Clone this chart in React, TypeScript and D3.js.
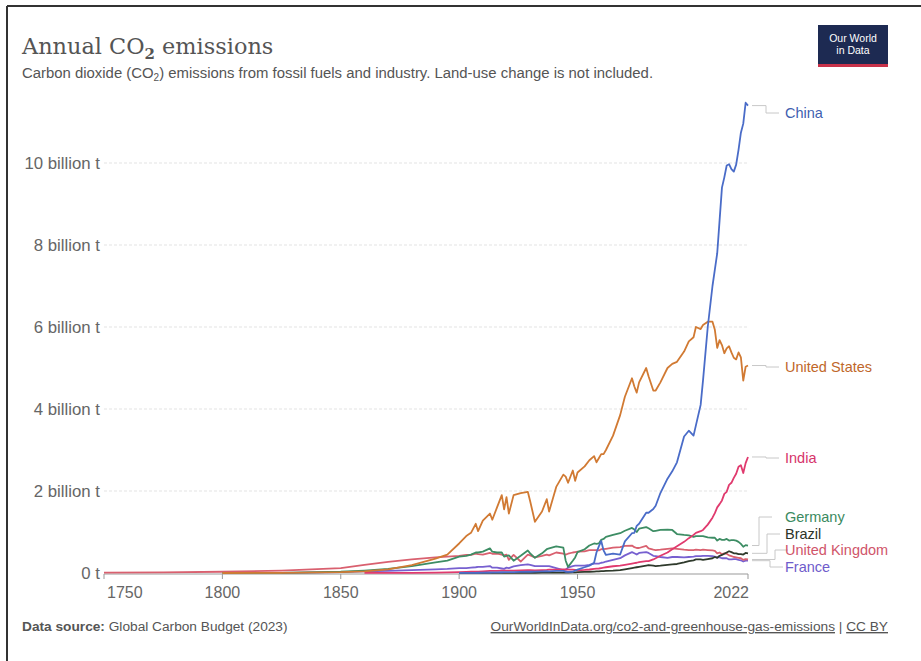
import React from 'react';
import * as d3 from 'd3';

// years shared by every series (irregular: denser where the lines wiggle)
const years = [
  1750, 1775, 1800, 1825, 1850, 1860, 1870, 1880, 1890, 1895,
  1900, 1903, 1905, 1907, 1908, 1910, 1913, 1914, 1916, 1918,
  1919, 1920, 1921, 1923, 1926, 1929, 1930, 1932, 1935, 1937,
  1938, 1941, 1944, 1945, 1946, 1948, 1949, 1950, 1953, 1955,
  1957, 1958, 1959, 1960, 1961, 1962, 1965, 1968, 1970, 1973,
  1974, 1975, 1976, 1979, 1980, 1982, 1983, 1985, 1988, 1990,
  1992, 1995, 1997, 1999, 2000, 2002, 2003, 2005, 2007, 2008,
  2009, 2010, 2011, 2012, 2013, 2014, 2015, 2016, 2017, 2018,
  2019, 2020, 2021, 2022,
];

// billion tonnes of CO2
const china = [
  null, null, null, null, null, null, null, null, null, null,
  0.001, 0.002, 0.003, 0.005, 0.006, 0.008, 0.012, 0.013, 0.015, 0.018,
  0.02, 0.02, 0.02, 0.022, 0.025, 0.03, 0.03, 0.035, 0.04, 0.045,
  0.04, 0.05, 0.05, 0.03, 0.025, 0.03, 0.06, 0.08, 0.14, 0.18,
  0.25, 0.5, 0.65, 0.78, 0.55, 0.44, 0.47, 0.45, 0.77, 0.97,
  0.98, 1.15, 1.2, 1.47, 1.47, 1.56, 1.64, 1.95, 2.3, 2.48,
  2.7, 3.33, 3.47, 3.35, 3.6, 4.1, 4.7, 6.0, 7.0, 7.4,
  7.8, 8.6, 9.4, 9.65, 9.94, 9.97, 9.85, 9.79, 9.96, 10.32,
  10.74, 10.96, 11.47, 11.4,
];

const unitedStates = [
  null, null, 0.0003, 0.003, 0.02, 0.04, 0.09, 0.19, 0.35, 0.45,
  0.72, 0.9, 0.98, 1.2, 1.02, 1.28, 1.45, 1.3, 1.6, 1.9,
  1.55, 1.85, 1.45, 1.9, 1.95, 1.98, 1.75, 1.25, 1.5, 1.8,
  1.5, 2.1, 2.4, 2.35, 2.2, 2.5, 2.25, 2.45, 2.6, 2.75,
  2.85, 2.7, 2.8, 2.9, 2.9, 3.0, 3.35, 3.85, 4.3, 4.75,
  4.55, 4.4, 4.65, 5.0, 4.8, 4.45, 4.45, 4.65, 5.0, 5.1,
  5.15, 5.4, 5.65, 5.75, 6.0, 5.95, 6.05, 6.13, 6.13, 5.93,
  5.49, 5.68, 5.56, 5.36, 5.48, 5.53, 5.38, 5.25, 5.21, 5.38,
  5.26, 4.69, 5.03, 5.06,
];

const india = [
  null, null, null, null, null, 0.001, 0.002, 0.005, 0.01, 0.015,
  0.02, 0.025, 0.03, 0.035, 0.035, 0.04, 0.05, 0.05, 0.05, 0.06,
  0.06, 0.06, 0.06, 0.06, 0.065, 0.07, 0.07, 0.065, 0.07, 0.075,
  0.08, 0.08, 0.085, 0.085, 0.08, 0.08, 0.075, 0.065, 0.075, 0.085,
  0.1, 0.105, 0.11, 0.12, 0.13, 0.14, 0.165, 0.18, 0.2, 0.23,
  0.24, 0.25, 0.265, 0.29, 0.29, 0.33, 0.36, 0.42, 0.5, 0.58,
  0.65, 0.76, 0.85, 0.93, 0.98, 1.02, 1.05, 1.18, 1.35, 1.46,
  1.6, 1.68, 1.77, 1.93, 1.98, 2.15, 2.2, 2.32, 2.42, 2.59,
  2.63, 2.44, 2.68, 2.83,
];

const germany = [
  null, null, 0.001, 0.004, 0.03, 0.06, 0.1, 0.17, 0.26, 0.3,
  0.4, 0.42, 0.45, 0.5, 0.5, 0.52, 0.6, 0.52, 0.5, 0.5,
  0.4, 0.42, 0.43, 0.3, 0.42, 0.55, 0.48, 0.37, 0.48, 0.58,
  0.6, 0.65, 0.62, 0.3, 0.15, 0.3, 0.38, 0.51, 0.58, 0.67,
  0.72, 0.71, 0.72, 0.81, 0.83, 0.88, 0.93, 0.97, 1.03, 1.1,
  1.06, 1.0, 1.08, 1.12, 1.09, 1.02, 1.03, 1.05, 1.06, 1.05,
  0.95, 0.93, 0.92, 0.88, 0.9, 0.9, 0.9, 0.87, 0.86, 0.86,
  0.79, 0.83, 0.81, 0.81, 0.83, 0.79, 0.8, 0.8, 0.79, 0.76,
  0.71, 0.64, 0.68, 0.67,
];

const brazil = [
  null, null, null, null, null, null, null, null, null, null,
  0.001, 0.001, 0.002, 0.002, 0.002, 0.003, 0.004, 0.003, 0.003, 0.003,
  0.004, 0.004, 0.004, 0.005, 0.006, 0.007, 0.006, 0.006, 0.007, 0.008,
  0.008, 0.009, 0.009, 0.01, 0.012, 0.015, 0.017, 0.02, 0.026, 0.03,
  0.035, 0.04, 0.04, 0.047, 0.048, 0.053, 0.056, 0.072, 0.09, 0.12,
  0.13, 0.14, 0.15, 0.18, 0.19, 0.18, 0.17, 0.18, 0.2, 0.21,
  0.22, 0.26, 0.29, 0.31, 0.33, 0.33, 0.32, 0.34, 0.36, 0.39,
  0.37, 0.42, 0.44, 0.47, 0.5, 0.53, 0.51, 0.48, 0.48, 0.46,
  0.46, 0.45, 0.49, 0.48,
];

const unitedKingdom = [
  0.009, 0.015, 0.03, 0.06, 0.12, 0.2, 0.27, 0.33, 0.38, 0.4,
  0.42, 0.44, 0.44, 0.47, 0.46, 0.45, 0.49, 0.47, 0.47, 0.45,
  0.43, 0.45, 0.32, 0.44, 0.28, 0.45, 0.43, 0.38, 0.42, 0.45,
  0.43, 0.5, 0.47, 0.45, 0.47, 0.5, 0.51, 0.52, 0.53, 0.56,
  0.56, 0.56, 0.55, 0.58, 0.58, 0.59, 0.62, 0.63, 0.66, 0.67,
  0.63, 0.61, 0.61, 0.66, 0.6, 0.57, 0.56, 0.57, 0.59, 0.6,
  0.59, 0.57, 0.56, 0.56, 0.57, 0.56, 0.57, 0.56, 0.55, 0.54,
  0.48, 0.5, 0.46, 0.48, 0.47, 0.43, 0.41, 0.39, 0.38, 0.37,
  0.36, 0.32, 0.34, 0.33,
];

const france = [
  null, null, null, 0.005, 0.02, 0.04, 0.05, 0.07, 0.09, 0.1,
  0.12, 0.12, 0.13, 0.14, 0.15, 0.15, 0.17, 0.13, 0.13, 0.11,
  0.1, 0.13, 0.12, 0.16, 0.19, 0.21, 0.2, 0.17, 0.17, 0.17,
  0.17, 0.12, 0.07, 0.08, 0.13, 0.17, 0.18, 0.18, 0.18, 0.2,
  0.23, 0.23, 0.23, 0.25, 0.26, 0.28, 0.32, 0.36, 0.43, 0.51,
  0.48, 0.45, 0.49, 0.51, 0.49, 0.42, 0.41, 0.39, 0.37, 0.39,
  0.39, 0.38, 0.39, 0.4, 0.41, 0.41, 0.42, 0.42, 0.41, 0.4,
  0.38, 0.38, 0.36, 0.36, 0.36, 0.33, 0.33, 0.34, 0.34, 0.32,
  0.31, 0.28, 0.3, 0.3,
];

const countries = ['China', 'United States', 'India', 'Germany', 'Brazil', 'United Kingdom', 'France'];
const seriesValues = [china, unitedStates, india, germany, brazil, unitedKingdom, france];

const yTicks = [0, 2, 4, 6, 8, 10];
const yTickLabels = ['0 t', '2 billion t', '4 billion t', '6 billion t', '8 billion t', '10 billion t'];
const xTicks = [1750, 1800, 1850, 1900, 1950, 2022];

// styling, kept apart from the data
const lineColors: Record<string, string> = {
  'China': '#4a6cc8',
  'United States': '#d17a33',
  'India': '#e03a6e',
  'Germany': '#3d8d64',
  'Brazil': '#2f3a2c',
  'United Kingdom': '#d9606f',
  'France': '#7760d0',
};
const labelColors: Record<string, string> = {
  'China': '#3f5fb0',
  'United States': '#c0672a',
  'India': '#d6336a',
  'Germany': '#3a8a60',
  'Brazil': '#2c3328',
  'United Kingdom': '#d0556a',
  'France': '#6f5ccb',
};
// label placement: [label centre y, elbow x]
const labelLayout: Record<string, [number, number]> = {
  'China': [113, 766],
  'United States': [367, 766],
  'India': [458, 766],
  'Germany': [517, 759],
  'Brazil': [534, 767],
  'United Kingdom': [550, 775],
  'France': [567, 770],
};

const W = 921;
const H = 661;
const sans = '"Liberation Sans", Arial, Helvetica, sans-serif';

const App: React.FC = () => {
  const x = d3.scaleLinear().domain([1750, 2022]).range([104, 748]);
  const y = d3.scaleLinear().domain([0, 10]).range([573, 163]);

  const line = d3.line<[number, number | null]>()
    .defined(d => d[1] != null)
    .x(d => x(d[0]))
    .y(d => y(d[1] as number));

  const textGray = '#555';

  return (
    <div style={{ position: 'fixed', left: 0, top: 0, width: W, height: H, background: '#fff' }}>
      <svg width={W} height={H} style={{ display: 'block' }}>
        <rect x={0} y={0} width={W} height={H} fill="#fff" />
        {/* frame of the screenshot */}
        <line x1={7} x2={W} y1={6} y2={6} stroke="#333" strokeWidth={2} />
        <line x1={7} x2={7} y1={6} y2={H} stroke="#333" strokeWidth={2} />

        {/* title */}
        <text x={22} y={54} fontFamily='"DejaVu Serif", "Liberation Serif", serif' fontSize={22.4} fill={textGray}>
          Annual CO<tspan fontSize={15} dy={5} fontWeight="bold">2</tspan><tspan dy={-5}> emissions</tspan>
        </text>
        <text x={22} y={78} fontFamily={sans} fontSize={14.9} fill={textGray}>
          Carbon dioxide (CO<tspan fontSize={10} dy={3}>2</tspan><tspan dy={-3}>) emissions from fossil fuels and industry. Land-use change is not included.</tspan>
        </text>

        {/* logo */}
        <rect x={818} y={25} width={70} height={42} fill="#1d2a52" />
        <rect x={818} y={64} width={70} height={3} fill="#c8324a" />
        <text x={853} y={42} textAnchor="middle" fontFamily={sans} fontSize={10.5} fill="#fff">Our World</text>
        <text x={853} y={54} textAnchor="middle" fontFamily={sans} fontSize={10.5} fill="#fff">in Data</text>

        {/* y grid + labels */}
        {yTicks.map((t, i) => (
          <g key={t}>
            {t !== 0 && (
              <line x1={104} x2={748} y1={y(t)} y2={y(t)} stroke="#e3e3e3" strokeDasharray="3,2" />
            )}
            <text x={100} y={y(t) + 5.5} textAnchor="end" fontFamily={sans} fontSize={16.8} fill="#666">
              {yTickLabels[i]}
            </text>
          </g>
        ))}

        {/* x axis */}
        <line x1={104} x2={748} y1={y(0) + 1} y2={y(0) + 1} stroke="#999" />
        {xTicks.map((t, i) => (
          <g key={t}>
            <line x1={x(t)} x2={x(t)} y1={y(0) + 1} y2={y(0) + 6} stroke="#999" />
            <text
              x={i === 0 ? x(t) + 3 : i === xTicks.length - 1 ? x(t) + 1 : x(t)}
              y={598}
              textAnchor={i === 0 ? 'start' : i === xTicks.length - 1 ? 'end' : 'middle'}
              fontFamily={sans}
              fontSize={16}
              fill="#666"
            >
              {t}
            </text>
          </g>
        ))}

        {/* series lines (small ones first, big ones on top) */}
        {countries.slice().reverse().map(name => {
          const vals = seriesValues[countries.indexOf(name)];
          const pts = years.map((yr, i) => [yr, vals[i]] as [number, number | null]);
          return (
            <path key={name} d={line(pts) || ''} fill="none" stroke={lineColors[name]} strokeWidth={1.8} strokeLinejoin="round" />
          );
        })}

        {/* end labels with connectors */}
        {countries.map((name, idx) => {
          const vals = seriesValues[idx];
          const endY = y(vals[vals.length - 1] as number);
          const [ly, ex] = labelLayout[name];
          const pathD = `M${x(2022) + 4},${endY}H${ex}V${ly}H${ex + 13}`;
          return (
            <g key={name}>
              <path d={pathD} fill="none" stroke="#c8c8c8" strokeWidth={1} />
              <text x={785} y={ly + 5} fontFamily={sans} fontSize={14.5} fill={labelColors[name]}>
                {name}
              </text>
            </g>
          );
        })}

        {/* footer */}
        <text x={22} y={631} fontFamily={sans} fontSize={13.7} fill={textGray}>
          <tspan fontWeight="bold">Data source:</tspan> Global Carbon Budget (2023)
        </text>
        <text x={888} y={631} textAnchor="end" fontFamily={sans} fontSize={13.7} fill={textGray}>
          <tspan textDecoration="underline">OurWorldInData.org/co2-and-greenhouse-gas-emissions</tspan>
          <tspan> | </tspan>
          <tspan textDecoration="underline">CC BY</tspan>
        </text>
      </svg>
    </div>
  );
};

export default App;
